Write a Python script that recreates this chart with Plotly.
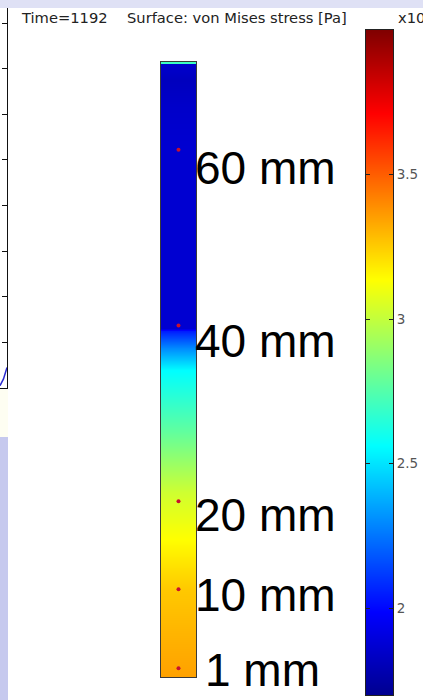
import plotly.graph_objects as go

W, H = 423, 700

# von Mises stress profile along the specimen height (values in the colour-bar units)
height_mm = [0, 3.4, 10, 15.6, 21, 28, 35, 37.5, 39.0, 39.4, 39.7, 50, 60, 65, 68, 69.75, 69.9, 70]
stress = [3.35, 3.32, 3.26, 3.14, 3.03, 2.78, 2.56, 2.30, 2.10, 2.05, 1.87, 1.87, 1.87, 1.85, 1.82, 1.86, 2.70, 2.70]

# probe points marked on the specimen
probe_mm = [60, 40, 20, 10, 1]
probe_labels = ["60 mm", "40 mm", "20 mm", "10 mm", "1 mm"]
label_px_y = [168, 341, 515, 595, 670]
label_px_x = [193, 193, 193, 193, 203]

# colour range and tick labels of the legend bar
z_min, z_max = 1.7, 4.0
cbar_ticks = [2, 2.5, 3, 3.5]
cbar_ticktext = ["2", "2.5", "3", "3.5"]

# edge fragment of the neighbouring plot
frag_curve_x = [0.0, 0.5, 1.0]
frag_curve_y = [0.05, 0.2, 0.45]

rainbow = [
    [0.0, "#00008f"],
    [0.125, "#0000ff"],
    [0.375, "#00ffff"],
    [0.625, "#ffff00"],
    [0.875, "#ff0000"],
    [1.0, "#800000"],
]


def px_x(p):
    return p / W


def px_y(p):
    return 1 - p / H


fig = go.Figure()

# specimen surface plot
fig.add_trace(go.Heatmap(
    x=[0, 1], y=height_mm, z=[[s, s] for s in stress],
    colorscale=rainbow, zmin=z_min, zmax=z_max, zsmooth="best",
    showscale=False, xaxis="x", yaxis="y", hoverinfo="skip",
))
fig.add_trace(go.Scatter(
    x=[0.5] * len(probe_mm), y=probe_mm, mode="markers",
    marker=dict(color="#c8102e", size=4), xaxis="x", yaxis="y",
    hoverinfo="skip", showlegend=False,
))

# legend bar drawn as its own axis
fig.add_trace(go.Heatmap(
    x=[0, 1], y=[z_min, z_max], z=[[z_min, z_min], [z_max, z_max]],
    colorscale=rainbow, zmin=z_min, zmax=z_max, zsmooth="best",
    showscale=False, xaxis="x2", yaxis="y2", hoverinfo="skip",
))

# neighbouring plot edge
fig.add_trace(go.Scatter(
    x=frag_curve_x, y=frag_curve_y, mode="lines",
    line=dict(color="#2a2ad0", width=1.5), xaxis="x3", yaxis="y3",
    hoverinfo="skip", showlegend=False,
))

hidden = dict(showgrid=False, zeroline=False, showticklabels=False, ticks="")

fig.update_layout(
    width=W, height=H,
    margin=dict(l=0, r=0, t=0, b=0),
    paper_bgcolor="white", plot_bgcolor="white",
    showlegend=False,
    xaxis=dict(domain=[px_x(161), px_x(196)], range=[0, 1], showline=True,
               mirror=True, linecolor="#3a3a3a", linewidth=1, **hidden),
    yaxis=dict(domain=[px_y(677), px_y(62)], range=[0, 70], showline=True,
               mirror=True, linecolor="#3a3a3a", linewidth=1, **hidden),
    xaxis2=dict(domain=[px_x(366), px_x(393)], range=[0, 1], anchor="y2",
                showline=True, mirror=True, linecolor="#222", linewidth=1, **hidden),
    yaxis2=dict(domain=[px_y(695), px_y(30)], range=[z_min, z_max], anchor="x2",
                side="right", showline=True, mirror="ticks", linecolor="#222",
                linewidth=1, ticks="inside", ticklen=4, tickcolor="#222",
                tickvals=cbar_ticks, ticktext=cbar_ticktext,
                tickfont=dict(family="DejaVu Sans", size=13.5, color="#555"),
                showgrid=False, zeroline=False),
    xaxis3=dict(domain=[0, px_x(7)], range=[0, 1], anchor="y3",
                showline=True, linecolor="#111", linewidth=1, **hidden),
    yaxis3=dict(domain=[px_y(388), px_y(8)], range=[0, 8.33], anchor="x3",
                side="right", showline=True, linecolor="#111", linewidth=1,
                ticks="inside", ticklen=5, tickcolor="#111", dtick=1, tick0=0,
                showticklabels=False, showgrid=False, zeroline=False),
    shapes=[
        dict(type="rect", xref="paper", yref="paper", x0=0, x1=1,
             y0=px_y(8), y1=1, fillcolor="#dfe1f5", line=dict(width=0), layer="below"),
        dict(type="rect", xref="paper", yref="paper", x0=0, x1=px_x(8),
             y0=0, y1=px_y(437), fillcolor="#c6c9ee", line=dict(width=0), layer="below"),
        dict(type="rect", xref="paper", yref="paper", x0=0, x1=px_x(8),
             y0=px_y(437), y1=px_y(389), fillcolor="#fefef2", line=dict(width=0), layer="below"),
    ],
)

annotations = [
    dict(text="Time=1192", x=px_x(19), y=px_y(18)),
    dict(text="Surface: von Mises stress [Pa]", x=px_x(125), y=px_y(18)),
    dict(text="x10", x=px_x(396), y=px_y(18)),
]
for a in annotations:
    a.update(xref="paper", yref="paper", xanchor="left", yanchor="middle",
             showarrow=False, font=dict(family="DejaVu Sans", size=14.7, color="#222"))

for lab, lx, ly in zip(probe_labels, label_px_x, label_px_y):
    annotations.append(dict(
        text=lab, x=px_x(lx), y=px_y(ly), xref="paper", yref="paper",
        xanchor="left", yanchor="middle", showarrow=False,
        font=dict(family="Liberation Sans", size=46, color="#000"),
    ))

fig.update_layout(annotations=annotations)

fig.write_html("out.html")
